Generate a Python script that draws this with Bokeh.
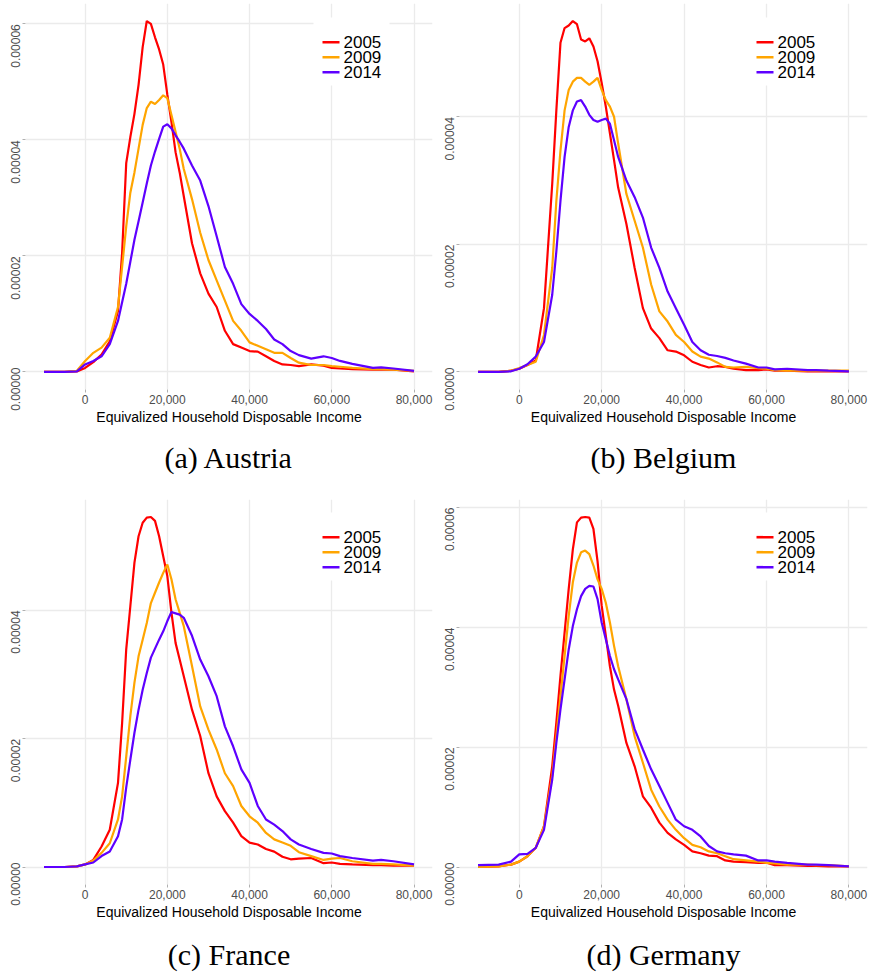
import math
from bokeh.plotting import figure
from bokeh.models import (Label, FixedTicker, NumeralTickFormatter,
                          CustomJSTickFormatter, Range1d, LinearAxis,
                          BoxAnnotation)
from bokeh.layouts import column, row
from bokeh.embed import file_html
from bokeh.resources import INLINE

# ---------------- data (density values read in units of 1e-5) ----------------
INCOME = [-10000, -5000, -2000, 0, 2000, 4000, 6000, 8000,
          9000, 10000, 11000, 12000, 13000, 14000, 15000, 16000,
          17000, 18000, 19000, 20000, 21000, 22000, 23000, 24000,
          26000, 28000, 30000, 32000, 34000, 36000, 38000, 40000,
          42000, 44000, 46000, 48000, 50000, 52000,
          55000, 58000, 60000, 62000, 65000, 70000, 72000, 75000, 80000]

YEARS = ["2005", "2009", "2014"]
DENSITY_UNIT = 1e-5

AUSTRIA_2005 = [0, 0, 0.01, 0.07, 0.17, 0.30, 0.53, 1.05,
                2.05, 3.6, 4.05, 4.45, 4.95, 5.6, 6.05, 6.0,
                5.77, 5.56, 5.3, 4.78, 4.31, 3.79, 3.44, 3.03,
                2.22, 1.70, 1.35, 1.12, 0.71, 0.48, 0.42, 0.36,
                0.35, 0.27, 0.19, 0.13, 0.12, 0.10,
                0.13, 0.11, 0.07, 0.06, 0.05, 0.04, 0.04, 0.04, 0.01]
AUSTRIA_2009 = [0, 0, 0.02, 0.19, 0.33, 0.42, 0.59, 1.12,
                1.81, 2.51, 3.09, 3.44, 3.85, 4.26, 4.55, 4.66,
                4.62, 4.69, 4.77, 4.72, 4.43, 4.14, 3.85, 3.5,
                2.98, 2.4, 1.93, 1.58, 1.23, 0.88, 0.71, 0.51,
                0.45, 0.39, 0.33, 0.33, 0.24, 0.16,
                0.12, 0.12, 0.10, 0.09, 0.07, 0.05, 0.05, 0.04, 0.02]
AUSTRIA_2014 = [0, 0, 0.01, 0.13, 0.19, 0.27, 0.48, 0.88,
                1.2, 1.52, 1.9, 2.28, 2.6, 2.92, 3.25, 3.56,
                3.8, 4.02, 4.23, 4.27, 4.2, 4.08, 3.97, 3.85,
                3.56, 3.3, 2.86, 2.34, 1.81, 1.52, 1.17, 1.0,
                0.88, 0.74, 0.56, 0.48, 0.36, 0.29,
                0.23, 0.27, 0.24, 0.19, 0.14, 0.07, 0.08, 0.06, 0.02]

BELGIUM_2005 = [0, 0, 0.02, 0.05, 0.11, 0.18, 1.0, 2.95,
                4.1, 5.16, 5.39, 5.43, 5.5, 5.45, 5.21, 5.18,
                5.23, 5.1, 4.87, 4.53, 4.16, 3.74, 3.32, 2.89,
                2.32, 1.63, 1.0, 0.68, 0.53, 0.34, 0.32, 0.26,
                0.16, 0.11, 0.07, 0.09, 0.08, 0.05,
                0.03, 0.03, 0.04, 0.02, 0.02, 0.01, 0.01, 0.01, 0.01]
BELGIUM_2009 = [0, 0, 0.02, 0.06, 0.11, 0.16, 0.58, 1.63,
                2.68, 3.47, 4.1, 4.42, 4.55, 4.61, 4.61, 4.55,
                4.5, 4.55, 4.61, 4.42, 4.26, 4.16, 4.0, 3.58,
                2.79, 2.37, 1.95, 1.37, 0.95, 0.79, 0.58, 0.47,
                0.32, 0.24, 0.21, 0.15, 0.08, 0.07,
                0.08, 0.06, 0.05, 0.03, 0.02, 0.02, 0.02, 0.02, 0.02]
BELGIUM_2014 = [0, 0, 0.01, 0.05, 0.12, 0.24, 0.47, 1.21,
                1.89, 2.68, 3.37, 3.84, 4.1, 4.24, 4.26, 4.16,
                4.03, 3.95, 3.92, 3.95, 3.97, 3.89, 3.63, 3.37,
                3.0, 2.74, 2.42, 1.95, 1.63, 1.26, 1.0, 0.74,
                0.47, 0.34, 0.27, 0.25, 0.22, 0.18,
                0.13, 0.07, 0.07, 0.04, 0.05, 0.03, 0.03, 0.02, 0.01]

FRANCE_2005 = [0, 0, 0.01, 0.04, 0.11, 0.32, 0.58, 1.31,
               2.24, 3.39, 4.06, 4.74, 5.15, 5.36, 5.44, 5.45,
               5.39, 5.15, 4.84, 4.53, 3.96, 3.49, 3.23, 2.97,
               2.45, 2.04, 1.46, 1.10, 0.87, 0.69, 0.48, 0.38,
               0.35, 0.28, 0.24, 0.16, 0.12, 0.13,
               0.14, 0.06, 0.07, 0.05, 0.04, 0.03, 0.03, 0.02, 0.02]
FRANCE_2009 = [0, 0, 0.01, 0.04, 0.10, 0.22, 0.37, 0.74,
               1.10, 1.72, 2.35, 2.87, 3.28, 3.54, 3.8, 4.11,
               4.27, 4.43, 4.58, 4.71, 4.48, 4.17, 3.96, 3.75,
               3.13, 2.5, 2.14, 1.83, 1.46, 1.26, 0.95, 0.79,
               0.69, 0.53, 0.43, 0.38, 0.33, 0.23,
               0.17, 0.11, 0.13, 0.14, 0.09, 0.05, 0.05, 0.04, 0.02]
FRANCE_2014 = [0, 0, 0.01, 0.04, 0.07, 0.17, 0.24, 0.48,
               0.74, 1.24, 1.67, 2.09, 2.45, 2.76, 3.02, 3.26,
               3.4, 3.54, 3.67, 3.83, 3.97, 3.95, 3.93, 3.88,
               3.6, 3.23, 2.97, 2.66, 2.19, 1.88, 1.52, 1.31,
               0.95, 0.74, 0.66, 0.56, 0.43, 0.35,
               0.28, 0.22, 0.21, 0.17, 0.14, 0.10, 0.11, 0.09, 0.04]

GERMANY_2005 = [0.0, 0.01, 0.04, 0.09, 0.18, 0.32, 0.68, 1.68,
                2.41, 3.19, 3.91, 4.64, 5.3, 5.75, 5.83, 5.84,
                5.83, 5.64, 5.1, 4.36, 3.86, 3.35, 2.96, 2.69,
                2.07, 1.68, 1.18, 0.99, 0.74, 0.57, 0.46, 0.37,
                0.26, 0.23, 0.19, 0.18, 0.11, 0.09,
                0.08, 0.07, 0.07, 0.03, 0.03, 0.02, 0.02, 0.01, 0.01]
GERMANY_2009 = [0.0, 0.01, 0.04, 0.09, 0.18, 0.32, 0.68, 1.52,
                2.18, 2.85, 3.52, 4.19, 4.75, 5.08, 5.25, 5.28,
                5.22, 5.03, 4.8, 4.64, 4.41, 4.08, 3.69, 3.35,
                2.8, 2.18, 1.74, 1.29, 1.01, 0.79, 0.62, 0.48,
                0.37, 0.33, 0.26, 0.23, 0.18, 0.13,
                0.11, 0.09, 0.07, 0.06, 0.04, 0.04, 0.03, 0.03, 0.01]
GERMANY_2014 = [0.03, 0.04, 0.09, 0.21, 0.22, 0.32, 0.62, 1.46,
                2.07, 2.63, 3.13, 3.63, 4.02, 4.3, 4.52, 4.64,
                4.69, 4.68, 4.47, 4.08, 3.8, 3.52, 3.3, 3.13,
                2.8, 2.3, 1.96, 1.63, 1.35, 1.07, 0.79, 0.68,
                0.62, 0.51, 0.35, 0.26, 0.23, 0.21,
                0.19, 0.11, 0.11, 0.09, 0.07, 0.04, 0.04, 0.03, 0.01]

CAPTIONS = ["(a) Austria", "(b) Belgium", "(c) France", "(d) Germany"]
SERIES = [
    [AUSTRIA_2005, AUSTRIA_2009, AUSTRIA_2014],
    [BELGIUM_2005, BELGIUM_2009, BELGIUM_2014],
    [FRANCE_2005, FRANCE_2009, FRANCE_2014],
    [GERMANY_2005, GERMANY_2009, GERMANY_2014],
]
X_TICKS = [0, 20000, 40000, 60000, 80000]
Y_TICKS = [0.0, 0.00002, 0.00004, 0.00006]
X_TITLE = "Equivalized Household Disposable Income"

for grp in SERIES:
    for s in grp:
        assert len(s) == len(INCOME), len(s)

# ---------------- styles / geometry ----------------
COLORS = ["#FF0000", "#FFA500", "#5E00FF"]
SANS = "Liberation Sans"
SERIF = "Liberation Serif"
TICK_COLOR = "#4D4D4D"
GRID_COLOR = "#EBEBEB"
TICK_MARK_COLOR = "#B0B0B0"
FRAME_H = 386
LABEL_SHIFT_PX = 22          # ggplot-like right-justified rotated y labels
# legend geometry (px, measured from the frame's left / top edge)
LEG_BOX = (288, 364, 14, 82)
LEG_KEY_X = (297, 314)
LEG_TEXT_X = 318
LEG_ROWS = [38.7, 53.7, 68.7]


def make_panel(caption, series, width, height, left, right, top, bottom,
               cap_standoff):
    p = figure(width=width, height=height, output_backend="svg",
               toolbar_location=None,
               min_border_left=left, min_border_right=right,
               min_border_top=top, min_border_bottom=bottom,
               background_fill_color="white", border_fill_color="white",
               outline_line_color=None)

    all_y = []
    for vals, color in zip(series, COLORS):
        ys = [v * DENSITY_UNIT for v in vals]
        all_y.extend(ys)
        p.line(INCOME, ys, line_color=color, line_width=2.2)

    ymin, ymax = min(all_y), max(all_y)
    span = ymax - ymin
    y0, y1 = ymin - 0.05 * span, ymax + 0.05 * span
    p.y_range = Range1d(y0, y1)

    # x axis
    xa = p.xaxis[0]
    xa.ticker = FixedTicker(ticks=X_TICKS)
    xa.formatter = NumeralTickFormatter(format="0,0")
    xa.axis_line_color = None
    xa.major_tick_line_color = TICK_MARK_COLOR
    xa.major_tick_in = 0
    xa.major_tick_out = 3
    xa.minor_tick_line_color = None
    xa.major_label_text_font = SANS
    xa.major_label_text_font_size = "12px"
    xa.major_label_text_color = TICK_COLOR
    xa.major_label_standoff = 2
    xa.axis_label = X_TITLE
    xa.axis_label_text_font = SANS
    xa.axis_label_text_font_size = "14px"
    xa.axis_label_text_font_style = "normal"
    xa.axis_label_text_color = "black"
    xa.axis_label_standoff = 2

    # sub-figure caption, carried by a bare second bottom axis
    ca = LinearAxis(ticker=FixedTicker(ticks=[]), axis_label=caption)
    ca.axis_line_color = None
    ca.major_tick_line_color = None
    ca.minor_tick_line_color = None
    ca.major_tick_in = 0
    ca.major_tick_out = 0
    ca.major_label_standoff = 0
    ca.axis_label_standoff = cap_standoff
    ca.axis_label_text_font = SERIF
    ca.axis_label_text_font_size = "30px"
    ca.axis_label_text_font_style = "normal"
    ca.axis_label_text_color = "black"
    p.add_layout(ca, "below")

    ticks = [t for t in Y_TICKS if t <= y1]

    # y axis carrying the tick marks (and the grid)
    ya = p.yaxis[0]
    ya.ticker = FixedTicker(ticks=ticks)
    ya.formatter = CustomJSTickFormatter(code="return ''")
    ya.axis_line_color = None
    ya.major_tick_line_color = TICK_MARK_COLOR
    ya.major_tick_in = 0
    ya.major_tick_out = 3
    ya.minor_tick_line_color = None
    ya.major_label_standoff = 0

    # second axis carrying the rotated labels, shifted so each label ends at its tick
    h = LABEL_SHIFT_PX * (y1 - y0) / FRAME_H
    lo, hi = y0 + h, y1 + h
    p.extra_y_ranges = {"ylab": Range1d(lo, hi)}
    label_ticks = [min(max(t, lo + 1e-3 * span), hi) for t in ticks]
    la = LinearAxis(y_range_name="ylab", ticker=FixedTicker(ticks=label_ticks),
                    formatter=CustomJSTickFormatter(code="return tick.toFixed(5)"))
    la.axis_line_color = None
    la.major_tick_line_color = None
    la.minor_tick_line_color = None
    la.major_tick_in = 0
    la.major_tick_out = 0
    la.major_label_standoff = 2
    la.major_label_orientation = "vertical"
    la.major_label_text_font = SANS
    la.major_label_text_font_size = "12px"
    la.major_label_text_color = TICK_COLOR
    p.add_layout(la, "left")

    p.xgrid.grid_line_color = GRID_COLOR
    p.ygrid.grid_line_color = GRID_COLOR
    p.xgrid.grid_line_width = 1.3
    p.ygrid.grid_line_width = 1.3

    # legend (white box, coloured keys, labels)
    bl, br, bt, bb = LEG_BOX
    p.add_layout(BoxAnnotation(left=bl, right=br, top=FRAME_H - bt, bottom=FRAME_H - bb,
                               left_units="screen", right_units="screen",
                               top_units="screen", bottom_units="screen",
                               fill_color="white", fill_alpha=1.0, line_color=None))
    for yr, color, ry in zip(YEARS, COLORS, LEG_ROWS):
        yc = FRAME_H - ry
        p.add_layout(BoxAnnotation(left=LEG_KEY_X[0], right=LEG_KEY_X[1],
                                   top=yc + 1.3, bottom=yc - 1.3,
                                   left_units="screen", right_units="screen",
                                   top_units="screen", bottom_units="screen",
                                   fill_color=color, fill_alpha=1.0, line_color=None))
        p.add_layout(Label(x=LEG_TEXT_X, y=yc, x_units="screen", y_units="screen",
                           text=yr, text_align="left", text_baseline="middle",
                           text_font=SANS, text_font_size="17px",
                           text_color="black"))
    return p


pa = make_panel(CAPTIONS[0], SERIES[0], 435, 490, 25, 3, 3, 101, 13)
pb = make_panel(CAPTIONS[1], SERIES[1], 436, 490, 24, 4, 3, 101, 13)
pc = make_panel(CAPTIONS[2], SERIES[2], 435, 483, 25, 3, 9, 88, 15)
pd = make_panel(CAPTIONS[3], SERIES[3], 436, 483, 24, 4, 9, 88, 15)

layout = column(row(pa, pb), row(pc, pd))

with open("out.html", "w") as f:
    f.write(file_html(layout, INLINE))
